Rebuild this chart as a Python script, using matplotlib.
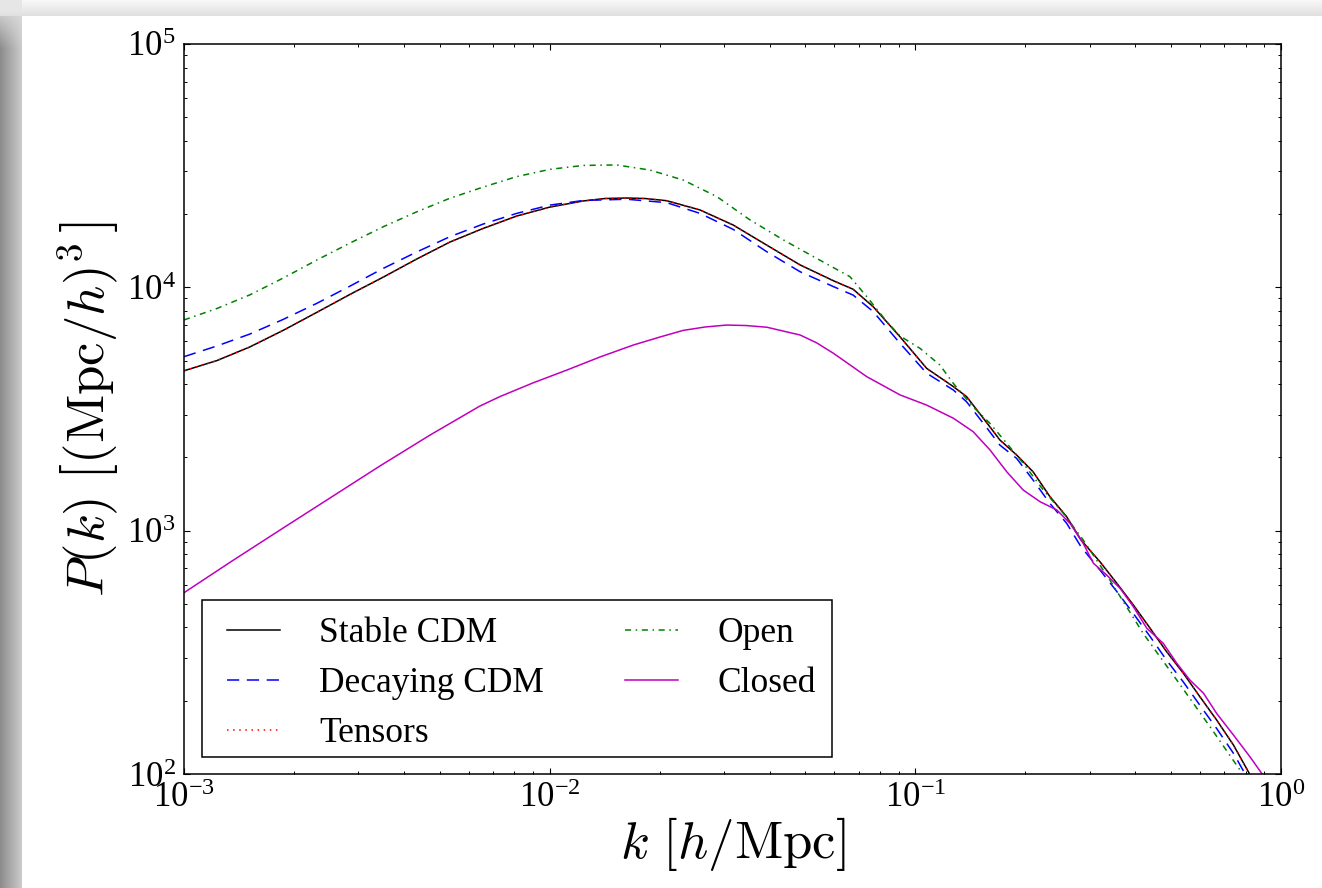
import numpy as np
import matplotlib
matplotlib.use("Agg")
import matplotlib.pyplot as plt
from matplotlib.ticker import LogLocator
from matplotlib.patches import Rectangle

# log10 k [h/Mpc] and log10 P(k) [(Mpc/h)^3] for each model
logk_stable = [-3.000, -2.910, -2.820, -2.729, -2.637, -2.546, -2.455, -2.364, -2.273,
               -2.182, -2.090, -1.999, -1.908, -1.849, -1.789, -1.739, -1.680, -1.589,
               -1.498, -1.407, -1.315, -1.224, -1.170, -1.115, -1.042, -0.969, -0.896,
               -0.860, -0.814, -0.769, -0.723, -0.678, -0.632, -0.586, -0.547, -0.495,
               -0.449, -0.404, -0.358, -0.313, -0.267, -0.222, -0.176, -0.130, -0.087]
logp_stable = [3.657, 3.699, 3.755, 3.823, 3.897, 3.971, 4.042, 4.116, 4.186,
               4.242, 4.293, 4.330, 4.355, 4.365, 4.367, 4.365, 4.356, 4.318,
               4.256, 4.174, 4.092, 4.027, 3.992, 3.920, 3.797, 3.667, 3.592,
               3.551, 3.462, 3.373, 3.311, 3.242, 3.140, 3.057, 2.962, 2.872,
               2.784, 2.695, 2.599, 2.503, 2.414, 2.318, 2.222, 2.119, 2.003]

logk_decay = [-3.000, -2.910, -2.820, -2.729, -2.637, -2.546, -2.455, -2.364, -2.273,
              -2.182, -2.090, -1.999, -1.908, -1.789, -1.680, -1.589, -1.498, -1.407,
              -1.315, -1.224, -1.170, -1.115, -1.042, -0.969, -0.896, -0.860, -0.814,
              -0.769, -0.723, -0.678, -0.632, -0.586, -0.547, -0.495, -0.449, -0.404,
              -0.358, -0.313, -0.267, -0.222, -0.176, -0.130, -0.098]
logp_decay = [3.715, 3.759, 3.808, 3.868, 3.934, 4.005, 4.078, 4.145, 4.208,
              4.260, 4.304, 4.338, 4.357, 4.362, 4.348, 4.304, 4.238, 4.147,
              4.064, 4.003, 3.968, 3.900, 3.770, 3.647, 3.578, 3.530, 3.441,
              3.352, 3.297, 3.208, 3.112, 3.030, 2.934, 2.838, 2.750, 2.660,
              2.565, 2.468, 2.378, 2.283, 2.187, 2.085, 2.000]

# tensor contribution leaves the spectrum unchanged
logk_tensor = list(logk_stable)
logp_tensor = list(logp_stable)

logk_open = [-3.000, -2.910, -2.820, -2.729, -2.637, -2.546, -2.455, -2.364, -2.273,
             -2.182, -2.090, -1.999, -1.908, -1.817, -1.726, -1.635, -1.543, -1.452,
             -1.361, -1.270, -1.179, -1.133, -1.078, -1.042, -0.987, -0.933, -0.896,
             -0.842, -0.796, -0.750, -0.705, -0.650, -0.595, -0.541, -0.468, -0.377,
             -0.285, -0.194, -0.112]
logp_open = [3.866, 3.913, 3.969, 4.038, 4.112, 4.182, 4.249, 4.310, 4.366,
             4.412, 4.455, 4.485, 4.501, 4.503, 4.482, 4.441, 4.373, 4.277,
             4.195, 4.119, 4.044, 3.962, 3.859, 3.800, 3.749, 3.681, 3.605,
             3.509, 3.441, 3.359, 3.277, 3.167, 3.071, 2.962, 2.797, 2.578,
             2.386, 2.194, 2.016]

logk_closed = [-3.000, -2.869, -2.737, -2.601, -2.464, -2.327, -2.191, -2.136, -2.046,
               -1.953, -1.862, -1.771, -1.698, -1.635, -1.575, -1.516, -1.463, -1.406,
               -1.315, -1.270, -1.224, -1.133, -1.042, -0.969, -0.896, -0.842, -0.796,
               -0.750, -0.705, -0.659, -0.613, -0.577, -0.541, -0.513, -0.477, -0.440,
               -0.404, -0.367, -0.322, -0.285, -0.249, -0.212, -0.176, -0.130, -0.085,
               -0.053]
logp_closed = [2.745, 2.875, 3.003, 3.134, 3.266, 3.393, 3.512, 3.551, 3.607,
               3.660, 3.714, 3.763, 3.796, 3.823, 3.837, 3.845, 3.843, 3.836,
               3.804, 3.772, 3.729, 3.633, 3.558, 3.516, 3.462, 3.407, 3.332,
               3.242, 3.167, 3.119, 3.085, 3.030, 2.948, 2.866, 2.818, 2.763,
               2.688, 2.599, 2.537, 2.455, 2.386, 2.332, 2.249, 2.160, 2.071,
               2.003]

labels = ["Stable CDM", "Decaying CDM", "Tensors", "Open", "Closed"]

plt.rcParams["font.family"] = ["Liberation Serif", "DejaVu Serif"]
plt.rcParams["mathtext.fontset"] = "stix"

W, H = 1322, 888
fig = plt.figure(figsize=(W / 100, H / 100), dpi=100)
fig.patch.set_facecolor("white")

# page with a soft drop shadow along the left and top edges
bg = np.ones((H, W))
yy, xx = np.mgrid[0:H, 0:W]
top_band = 0.975 - 0.10 * (yy / 16.0)
left_band = 0.55 + 0.24 * (xx / 21.0)
fade = np.clip((yy - 4) / 45.0, 0, 1)
left_val = top_band.clip(0.87, 1) * (1 - fade) + left_band * fade
bg = np.where(yy < 17, top_band, bg)
bg = np.where(xx < 22, np.where(yy < 17, np.minimum(top_band, 0.9), left_val), bg)
bg_ax = fig.add_axes([0, 0, 1, 1])
bg_ax.imshow(bg, cmap="gray", vmin=0, vmax=1, aspect="auto",
             interpolation="bilinear", extent=(0, W, H, 0))
bg_ax.set_axis_off()
bg_ax.set_zorder(-1)

ax = fig.add_axes([184 / W, 1 - 774 / H, 1097 / W, 730 / H])
ax.set_facecolor("white")


def tolin(v):
    return np.power(10.0, np.asarray(v))


ax.plot(tolin(logk_stable), tolin(logp_stable), color="k", lw=1.1, label=labels[0])
ax.plot(tolin(logk_decay), tolin(logp_decay), color="b", lw=1.1,
        linestyle=(0, (8, 5)), label=labels[1])
ax.plot(tolin(logk_tensor), tolin(logp_tensor), color="r", lw=1.1,
        linestyle=(0, (1, 3)), label=labels[2])
ax.plot(tolin(logk_open), tolin(logp_open), color=(0, 0.5, 0), lw=1.1,
        linestyle=(0, (4, 3, 1, 3)), label=labels[3])
ax.plot(tolin(logk_closed), tolin(logp_closed), color=(0.75, 0, 0.75), lw=1.1,
        label=labels[4])

ax.set_xscale("log")
ax.set_yscale("log")
ax.set_xlim(1e-3, 1e0)
ax.set_ylim(1e2, 1e5)

ax.xaxis.set_minor_locator(LogLocator(base=10, subs=np.arange(2, 10)))
ax.yaxis.set_minor_locator(LogLocator(base=10, subs=np.arange(2, 10)))
ax.tick_params(which="both", direction="in", top=True, right=True, colors="k")
ax.tick_params(which="major", length=4.5, width=0.8, labelsize=25, pad=6)
ax.tick_params(which="minor", length=2.5, width=0.7)
for s in ax.spines.values():
    s.set_linewidth(1.1)

ax.set_xlabel(r"$k\ [h/\mathrm{Mpc}]$", fontsize=38, math_fontfamily="cm", labelpad=0)
ax.set_ylabel(r"$P(k)\ \left[(\mathrm{Mpc}/h)^3\,\right]$", fontsize=38,
              math_fontfamily="cm", labelpad=4)

# legend box
ax.add_patch(Rectangle((18 / 1097, 17 / 730), 630 / 1097, 157 / 730,
                       transform=ax.transAxes, facecolor="white", edgecolor="k",
                       lw=1.1, zorder=4))
leg = ax.legend(loc="upper left", bbox_to_anchor=(43 / 1097, 0.215), borderaxespad=0,
                ncol=2, fontsize=25.5, handlelength=1.5, handletextpad=1.1,
                columnspacing=2.3, labelspacing=0.48, frameon=False, borderpad=0)
leg.set_zorder(5)

fig.savefig("out.png", dpi=100)
